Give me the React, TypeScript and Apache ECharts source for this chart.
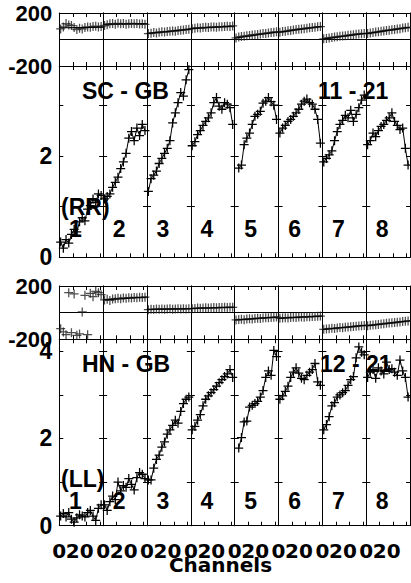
import React, { useEffect, useRef } from 'react';
import * as echarts from 'echarts';

// ---------- data ----------
const channels = [1, 3, 5, 7, 9, 11, 13, 15, 17, 19, 21, 23, 25, 27, 29, 31];
const fitChannels = [0, 32.5];
const panelNumbers = ['1', '2', '3', '4', '5', '6', '7', '8'];

const rrAmp: (number | null)[][] = [
  [0.30, 0.18, 0.35, 0.28, 0.45, 0.55, 0.50, 0.70, 0.78, 0.72, 0.95, 1.02, 1.15, 1.08, 1.25, 1.22],
  [1.15, 1.20, 1.25, 1.38, 1.48, 1.58, 1.75, 1.88, 2.05, 2.35, 2.48, 2.30, 2.55, 2.40, 2.62, 2.50],
  [1.30, 1.55, 1.62, 1.70, 1.85, 1.95, 2.05, 2.15, 2.30, 2.65, 2.85, 3.05, 3.25, 3.18, 3.50, 3.70],
  [2.20, 2.28, 2.42, 2.50, 2.60, 2.68, 2.75, 2.85, 3.05, 3.15, 2.98, 2.92, 3.05, 3.02, 2.95, 2.62],
  [null, 1.76, 1.82, 2.22, 2.35, 2.45, 2.62, 2.78, 2.82, 2.88, 3.04, 3.08, 3.15, 3.07, 3.00, 2.72],
  [2.45, 2.55, 2.60, 2.68, 2.72, 2.78, 2.85, 2.92, 3.02, 3.08, 3.12, 3.05, 3.02, 2.92, 2.72, 2.25],
  [1.88, 1.95, 2.02, 2.10, 2.30, 2.48, 2.62, 2.70, 2.80, 2.75, 2.90, 2.68, 2.82, 2.95, 3.10, 3.20],
  [2.22, 2.30, 2.45, 2.38, 2.50, 2.58, 2.62, 2.70, 2.75, 2.85, 2.68, 2.60, 2.52, 2.55, 2.15, 1.82],
];

const rrPhase: number[][] = [
  [80, 95, 120, 110, 105, 90, 75, 85, 80, 90, 95, 92, 98, 100, 95, 98],
  [105, 112, 118, 120, 115, 122, 118, 120, 116, 119, 121, 118, 120, 117, 119, 115],
  [45, 48, 52, 50, 55, 58, 56, 60, 62, 65, 63, 68, 70, 72, 75, 78],
  [82, 85, 88, 86, 90, 92, 90, 94, 95, 93, 97, 96, 98, 100, 98, 102],
  [12, 18, 22, 25, 28, 30, 34, 36, 38, 42, 45, 46, 50, 52, 55, 58],
  [55, 60, 62, 66, 68, 72, 75, 78, 80, 82, 85, 88, 90, 92, 96, 98],
  [5, 8, 12, 15, 18, 20, 24, 26, 28, 32, 34, 36, 40, 42, 44, 46],
  [45, 50, 52, 56, 58, 62, 65, 68, 70, 73, 76, 80, 82, 86, 88, 92],
];
const rrPhaseFit: (number[] | null)[] = [
  [88, 92], [115, 119], [45, 78], [83, 101], [10, 58], [54, 100], [3, 47], [44, 93],
];

const llAmp: (number | null)[][] = [
  [0.22, 0.28, 0.20, 0.30, 0.15, 0.08, 0.18, 0.25, 0.22, 0.20, 0.30, 0.35, 0.22, 0.12, 0.40, 0.48],
  [0.48, 0.35, 0.55, 0.68, 0.60, 1.00, 0.80, 0.92, 0.88, 1.08, 0.95, 0.82, 1.10, 1.22, 1.18, 1.08],
  [1.05, 1.05, 1.32, 1.52, 1.62, 1.80, 1.92, 2.10, 2.20, 2.30, 2.42, 2.35, 2.62, 2.80, 2.90, 2.95],
  [2.20, 2.28, 2.42, 2.55, 2.75, 2.90, 2.98, 3.05, 3.12, 3.20, 3.28, 3.35, 3.42, 3.48, 3.58, 3.40],
  [null, 1.78, 2.02, 2.38, 2.40, 2.72, 2.76, 2.80, 2.85, 2.95, 3.10, 3.40, 3.55, 3.45, 4.02, 3.88],
  [2.90, 2.98, 3.08, 3.20, 3.40, 3.52, 3.62, 3.50, 3.38, 3.35, 3.45, 3.52, 3.58, 3.72, 3.30, 3.22],
  [2.20, 2.32, 2.50, 2.75, 2.82, 2.95, 3.00, 3.05, 3.10, 3.22, 3.35, 3.42, 3.85, 4.10, 3.98, 3.92],
  [3.40, 3.52, 3.58, 3.38, 3.62, 3.55, 3.48, 3.75, 3.58, 3.60, 3.52, 3.45, 3.80, 3.55, 3.40, 2.95],
];

const llPhase: number[][] = [
  [-120, -145, -165, 150, -150, 140, -170, -160, 5, 130, -165, 145, 120, 160, 150, 135],
  [95, 100, 92, 102, 105, 108, 104, 110, 108, 112, 110, 114, 112, 115, 113, 116],
  [22, 25, 24, 27, 26, 28, 25, 27, 29, 26, 28, 30, 27, 29, 28, 30],
  [30, 32, 34, 33, 35, 36, 34, 37, 38, 36, 38, 39, 40, 38, 41, 40],
  [-55, -52, -50, -53, -48, -46, -47, -44, -42, -43, -40, -38, -39, -36, -35, -33],
  [-42, -40, -38, -40, -36, -35, -37, -33, -32, -34, -30, -31, -28, -29, -27, -26],
  [-125, -122, -120, -118, -119, -115, -112, -113, -110, -108, -106, -104, -102, -100, -98, -96],
  [-98, -95, -92, -90, -88, -85, -84, -80, -78, -76, -74, -72, -70, -67, -65, -62],
];
const llPhaseFit: (number[] | null)[] = [
  null, [95, 118], [24, 30], [31, 41], [-56, -32], [-43, -25], [-127, -94], [-100, -60],
];

const phaseLabels = [-200, 200];
const rrBaselines = ['SC - GB', '11 - 21'];
const llBaselines = ['HN - GB', '12 - 21'];
const polLabels = ['(RR)', '(LL)'];
const xLabelValues = [0, 20];
const xTitle = 'Channels';

// ---------- layout ----------
const COL_L = 59.3;
const COL_W = 43.85;
const FONT = '"Liberation Sans", Arial, Helvetica, sans-serif';
const FONT_WIDE = '"DejaVu Sans", "Liberation Sans", sans-serif';
const PLUS = 'path://M4.3,0H5.7V4.3H10V5.7H5.7V10H4.3V5.7H0V4.3H4.3Z';

type RowDef = { top: number; height: number; kind: 'phase' | 'amp'; min: number; max: number };
const rows: RowDef[] = [
  { top: 13, height: 53, kind: 'phase', min: -200, max: 200 },
  { top: 66, height: 191.3, kind: 'amp', min: 0, max: 3.773 },
  { top: 286, height: 53.3, kind: 'phase', min: -200, max: 200 },
  { top: 339.3, height: 186.4, kind: 'amp', min: 0, max: 4.275 },
];

function buildOption() {
  const grid: any[] = [];
  const xAxis: any[] = [];
  const yAxis: any[] = [];
  const series: any[] = [];
  const line = { color: '#000', width: 1 };

  rows.forEach((row, r) => {
    for (let c = 0; c < 8; c++) {
      const g = r * 8 + c;
      grid.push({ left: COL_L + COL_W * c, top: row.top, width: COL_W, height: row.height, containLabel: false });
      const xBase = {
        gridIndex: g, type: 'value', min: 0, max: 32.5, interval: 10,
        axisLine: { show: true, onZero: false, lineStyle: line },
        axisTick: { show: true, inside: true, length: 4, lineStyle: line },
        splitLine: { show: false },
      };
      xAxis.push({
        ...xBase, position: 'bottom',
        axisLabel: {
          show: r === 3, margin: 15, color: '#000', fontSize: 20, fontWeight: 'bold', fontFamily: FONT_WIDE,
          showMinLabel: true, showMaxLabel: false,
          formatter: (v: number) => (v === xLabelValues[0] ? String(v) : v === xLabelValues[1] ? '{s|' + v + '}' : ''),
          rich: { s: { fontSize: 20, fontWeight: 'bold', fontFamily: FONT_WIDE, color: '#000', padding: [0, 13, 0, 0] } },
        },
      });
      xAxis.push({ ...xBase, position: 'top', axisLabel: { show: false } });

      const isPhase = row.kind === 'phase';
      const yBase = {
        gridIndex: g, type: 'value', min: row.min, max: row.max, interval: isPhase ? 200 : 1,
        axisLine: { show: true, onZero: false, lineStyle: line },
        axisTick: { show: !isPhase, inside: true, length: 4, lineStyle: line },
      };
      yAxis.push({
        ...yBase, position: 'left',
        splitLine: { show: isPhase, lineStyle: line },
        axisLabel: {
          show: c === 0, margin: 7, color: '#000', fontSize: isPhase ? 22 : 23, fontWeight: 'bold', fontFamily: FONT,
          formatter: (v: number) => {
            if (isPhase) return phaseLabels.includes(v) ? String(v) : '';
            const k = Math.round(v);
            return Math.abs(v - k) < 1e-6 && k % 2 === 0 ? String(k) : '';
          },
        },
      });
      yAxis.push({ ...yBase, position: 'right', splitLine: { show: false }, axisLabel: { show: false } });

      const ax = { xAxisIndex: 2 * g, yAxisIndex: 2 * g };
      if (isPhase) {
        const vals = r === 0 ? rrPhase[c] : llPhase[c];
        const fit = r === 0 ? rrPhaseFit[c] : llPhaseFit[c];
        series.push({
          type: 'scatter', ...ax, symbol: PLUS, symbolSize: 9, silent: true,
          itemStyle: { color: '#222' },
          data: channels.map((ch, i) => [ch, vals[i]]),
        });
        if (fit) {
          series.push({
            type: 'line', ...ax, symbol: 'none', silent: true, lineStyle: line,
            data: fitChannels.map((ch, i) => [ch, fit[i]]),
          });
        }
      } else {
        const vals = r === 1 ? rrAmp[c] : llAmp[c];
        series.push({
          type: 'line', ...ax, symbol: PLUS, symbolSize: 9, showSymbol: true, silent: true,
          lineStyle: line, itemStyle: { color: '#000' },
          data: channels.map((ch, i) => [ch, vals[i]]).filter((p) => p[1] !== null),
        });
      }
    }
  });

  const txt = (text: string, x: number, y: number, align: string, size = 23, family = FONT) => ({
    type: 'text', z: 100, silent: true,
    style: { text, x, y, textAlign: align, textVerticalAlign: 'middle', font: `bold ${size}px ${family}`, fill: '#000' },
  });
  const graphic: any[] = [
    txt(rrBaselines[0], 82, 90.5, 'left'),
    txt(rrBaselines[1], 318, 91, 'left'),
    txt(polLabels[0], 61, 206.5, 'left'),
    txt(llBaselines[0], 82, 363.5, 'left'),
    txt(llBaselines[1], 320, 364, 'left'),
    txt(polLabels[1], 61, 479, 'left'),
    txt(xTitle, 220.5, 565, 'center', 20, FONT_WIDE),
  ];
  panelNumbers.forEach((n, c) => {
    graphic.push(txt(n, COL_L + COL_W * c + 16, 228.5, 'center'));
    graphic.push(txt(n, COL_L + COL_W * c + 16, 501, 'center'));
  });

  return { animation: false, backgroundColor: '#fff', grid, xAxis, yAxis, series, graphic };
}

export default function App() {
  const ref = useRef<HTMLDivElement>(null);
  useEffect(() => {
    if (!ref.current) return;
    const chart = echarts.init(ref.current, undefined, { renderer: 'svg' });
    chart.setOption(buildOption() as any);
    return () => chart.dispose();
  }, []);
  return (
    <div
      ref={ref}
      style={{ position: 'fixed', left: 0, top: 0, width: 411, height: 583, background: '#fff' }}
    />
  );
}
